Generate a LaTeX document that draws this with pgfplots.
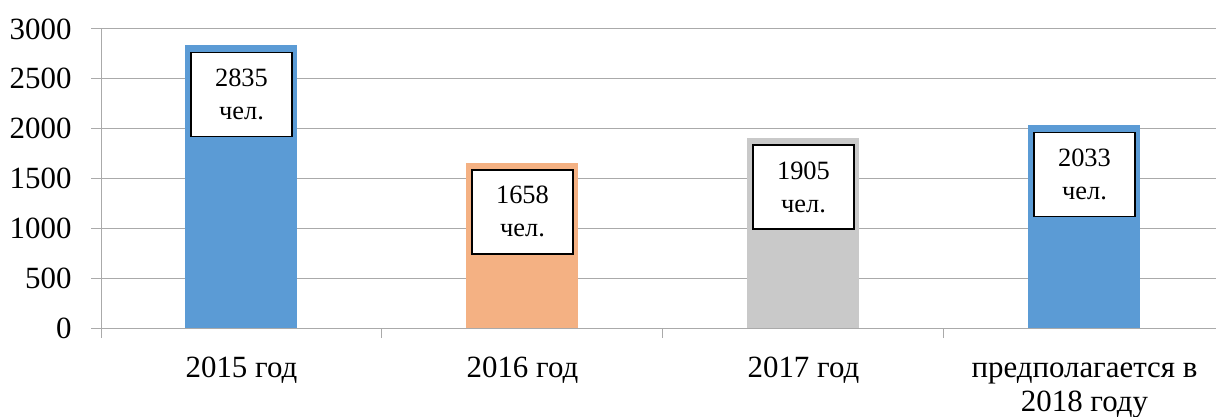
\documentclass[border=0pt]{standalone}
\usepackage{fontspec}
\setmainfont{Liberation Serif}
\usepackage{pgfplots}
\pgfplotsset{compat=1.18}
\definecolor{cblue}{RGB}{91,155,213}
\definecolor{corange}{RGB}{244,177,131}
\definecolor{cgray}{RGB}{201,201,201}
\definecolor{gridc}{RGB}{170,170,170}
\begin{document}
\begin{tikzpicture}[x=1bp,y=1bp]
\path[use as bounding box] (0,0) rectangle (1216,416);
\clip (0,0) rectangle (1216,416);
\begin{axis}[
  at={(101bp,88bp)}, anchor=south west,
  scale only axis, width=1124bp, height=299bp,
  xmin=-0.5, xmax=3.5, ymin=0, ymax=3000,
  ybar,
  axis lines*=left,
  axis line style={gridc, line width=1bp},
  ytick={0,500,...,3000},
  ymajorgrids, grid style={gridc, line width=1bp},
  tick align=outside,
  major tick length=10bp,
  tick style={gridc, line width=1bp},
  xtick={-0.5,0.5,1.5,2.5,3.5},
  x tick label as interval,
  xticklabels={\strut 2015 год, \strut 2016 год, \strut 2017 год, \strut предполагается в\\2018 году},
  xticklabel style={font=\fontsize{31}{34}\selectfont, align=center, text=black, yshift=-12bp},
  yticklabel style={font=\fontsize{31}{37}\selectfont, text=black, xshift=-16bp},
  /pgf/number format/assume math mode=true,
  /pgf/number format/1000 sep={},
  nodes near coords={\pgfmathprintnumber[1000 sep={}]{\pgfplotspointmeta}\\чел.},
  every node near coord/.append style={anchor=north, yshift=-7bp, draw=black, line width=1.6bp,
     fill=white, align=center, minimum width=101bp, minimum height=84bp, inner sep=0pt, outer sep=0pt,
     font=\fontsize{26.5}{33}\selectfont, text=black},
]
\addplot[ybar, bar width=112bp, bar shift=0pt, fill=cblue, draw=none] coordinates {(0,2835)};
\addplot[ybar, bar width=112bp, bar shift=0pt, fill=corange, draw=none] coordinates {(1,1658)};
\addplot[ybar, bar width=112bp, bar shift=0pt, fill=cgray, draw=none] coordinates {(2,1905)};
\addplot[ybar, bar width=112bp, bar shift=0pt, fill=cblue, draw=none] coordinates {(3,2033)};
\end{axis}
\end{tikzpicture}
\end{document}
